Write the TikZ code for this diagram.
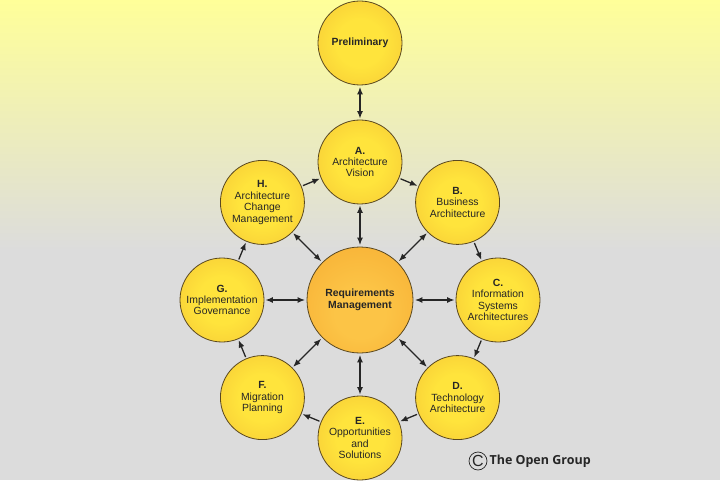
\documentclass[tikz,border=0pt]{standalone}
\usepackage{fontspec}
\setmainfont{Liberation Sans}
\newfontfamily\groupfont{Open Sans}
\usetikzlibrary{arrows.meta,positioning}
\definecolor{ink}{HTML}{262626}
\definecolor{rim}{HTML}{5A4820}
\definecolor{bgtop}{HTML}{FFFF99}
\definecolor{bggray}{HTML}{DCDCDC}
\definecolor{phasein}{HTML}{FFE43C}
\definecolor{phaseout}{HTML}{F0B630}
\definecolor{hubin}{HTML}{FCC446}
\definecolor{hubout}{HTML}{F4A42A}
\pgfdeclareradialshading{phaseshade}{\pgfpoint{0bp}{0bp}}{color(0bp)=(phasein); color(14bp)=(phasein); color(50bp)=(phaseout)}
\pgfdeclareradialshading{hubshade}{\pgfpoint{0bp}{-8bp}}{color(0bp)=(hubin); color(12bp)=(hubin); color(50bp)=(hubout)}
\tikzset{
	phase/.style={
		shape = circle,
		draw = rim,
		line width = 0.8pt,
		shading = phaseshade,
		minimum size = 84pt,
		inner sep = 0pt,
		align = center,
		text = ink,
		font = \fontsize{10.4}{11.4}\selectfont
	},
	hub/.style={
		phase,
		minimum size = 106pt,
		shading = hubshade,
		font = \bfseries\fontsize{10.4}{11.4}\selectfont
	},
	link/.style={
		draw = ink,
		line width = 1.3pt,
		shorten > = 1pt,
		shorten < = 1.5pt
	},
}
\tikzset{>={Latex[length=7.5pt,width=6pt]}}

\begin{document}
\begin{tikzpicture}[x=1pt, y=1pt]
    \shade[top color=bgtop, bottom color=bggray] (0,230) rectangle (720,480);
    \fill[bggray] (0,0) rectangle (720,230.5);
    \useasboundingbox (0,0) rectangle (720,480);
    \node[hub] (req) at (360,180) {Requirements\\Management};
    \node[phase] (pre) at (360,437) {\textbf{Preliminary}};
    \foreach \n/\a/\txt in {
        a/90/{\textbf{A.}\\Architecture\\Vision},
        b/45/{\textbf{B.}\\Business\\Architecture},
        c/0/{\textbf{C.}\\Information\\Systems\\Architectures},
        d/-45/{\textbf{D.}\\Technology\\Architecture},
        e/-90/{\textbf{E.}\\Opportunities\\and\\Solutions},
        f/-135/{\textbf{F.}\\Migration\\Planning},
        g/180/{\textbf{G.}\\Implementation\\Governance},
        h/135/{\textbf{H.}\\Architecture\\Change\\Management}}{
      \node[phase] (\n) at ([shift={(\a:138)}]360,180) {\txt};
      \draw[link,<->] (req) -- (\n);
    }
    \draw[link,<->] (pre) -- (a);
    \foreach \s/\t in {a/b, b/c, c/d, d/e, e/f, f/g, g/h, h/a}
      \draw[link,->] (\s) -- (\t);
    \node[circle, draw=ink, line width=0.7pt, minimum size=18pt, inner sep=0pt,
          text=ink, font=\fontsize{16}{16}\selectfont] (copy) at (478,19) {C};
    \node[right=2pt of copy, inner sep=0pt, text=ink,
          font=\groupfont\bfseries\fontsize{12.5}{14}\selectfont] (group) {The Open Group};
\end{tikzpicture}
\end{document}
